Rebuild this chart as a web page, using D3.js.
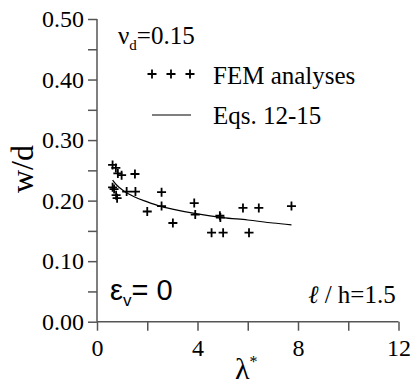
<!DOCTYPE html>
<meta charset="utf-8">
<head>
    <style>
        body { margin: 0; background: #fff; }
        svg text { font-family: "Liberation Serif", Tinos, "Times New Roman", "Nimbus Roman", "DejaVu Serif", serif; fill: #000; }
        .axis path, .axis line { stroke: #555; stroke-width: 1.5; }
        .axis text { font-size: 24px; }
    </style>
    <script src="https://cdnjs.cloudflare.com/ajax/libs/d3/7.8.5/d3.min.js"></script>
</head>
<body>
    <svg width="414" height="385"></svg>

    <script type="text/javascript">

        // FEM analyses (lambda*, w/d)
        var femLambda = [0.62, 0.75, 0.83, 0.98, 1.51, 0.62, 0.68, 0.76, 0.80, 1.18, 1.53, 2.57, 2.00, 2.57, 3.02, 3.87, 3.91, 4.89, 4.91, 4.56, 5.02, 6.05, 5.81, 6.44, 7.74];
        var femWd     = [0.259, 0.254, 0.245, 0.242, 0.244, 0.222, 0.219, 0.209, 0.204, 0.215, 0.215, 0.214, 0.182, 0.191, 0.163, 0.196, 0.177, 0.175, 0.172, 0.147, 0.147, 0.147, 0.188, 0.188, 0.191];

        // Eqs. 12-15 curve
        var eqLambda = [0.62, 0.8, 1.0, 1.5, 2.0, 2.5, 3.0, 4.0, 5.0, 6.0, 7.0, 7.74];
        var eqWd     = [0.234, 0.225, 0.218, 0.206, 0.198, 0.191, 0.186, 0.178, 0.172, 0.168, 0.163, 0.160];

        var yTicks = [0, 0.05, 0.1, 0.15, 0.2, 0.25, 0.3, 0.35, 0.4, 0.45, 0.5];
        var yLabels = ["0.00", "", "0.10", "", "0.20", "", "0.30", "", "0.40", "", "0.50"];
        var xTicks = [0, 2, 4, 6, 8, 10, 12];
        var xLabels = ["0", "", "4", "", "8", "", "12"];

        var svg = d3.select("svg");
        var serif = '"Liberation Serif", Tinos, "Times New Roman", "Nimbus Roman", "DejaVu Serif", serif';

        var x = d3.scaleLinear().domain([0, 12]).range([97, 398.5]);
        var y = d3.scaleLinear().domain([0, 0.5]).range([321.7, 19]);

        svg.append("g")
            .attr("class", "axis")
            .attr("transform", "translate(0," + y(0) + ")")
            .call(d3.axisBottom(x).tickValues(xTicks).tickSize(9).tickPadding(8)
                .tickFormat(function (d, i) { return xLabels[i]; }))
            .call(function (g) { g.select(".domain").attr("d", "M" + x(0) + ",0H" + x(12)); });

        svg.append("g")
            .attr("class", "axis")
            .attr("transform", "translate(" + x(0) + ",0)")
            .call(d3.axisLeft(y).tickValues(yTicks).tickSize(9).tickPadding(4)
                .tickFormat(function (d, i) { return yLabels[i]; }))
            .call(function (g) { g.select(".domain").attr("d", "M0," + y(0.5) + "V" + y(0)); });

        svg.selectAll(".axis").attr("font-family", serif).attr("font-size", 24);
        svg.selectAll(".axis text").attr("fill", "#000");

        // curve
        var line = d3.line()
            .x(function (d, i) { return x(eqLambda[i]); })
            .y(function (d, i) { return y(eqWd[i]); })
            .curve(d3.curveMonotoneX);

        svg.append("path")
            .datum(eqLambda)
            .attr("d", line)
            .attr("fill", "none")
            .attr("stroke", "#000")
            .attr("stroke-width", 1.2);

        // plus markers
        function plus(sel) {
            sel.attr("d", "M-4.5,0H4.5M0,-4.5V4.5")
                .attr("stroke", "#000")
                .attr("stroke-width", 1.8)
                .attr("fill", "none");
        }

        svg.append("g")
            .selectAll("path")
            .data(femLambda)
            .enter().append("path")
            .attr("transform", function (d, i) { return "translate(" + x(d) + "," + y(femWd[i]) + ")"; })
            .call(plus);

        // legend
        svg.append("g")
            .selectAll("path")
            .data([152, 171, 190])
            .enter().append("path")
            .attr("transform", function (d) { return "translate(" + d + ",74)"; })
            .call(plus);

        svg.append("line")
            .attr("x1", 152).attr("x2", 191)
            .attr("y1", 115).attr("y2", 115)
            .attr("stroke", "#000").attr("stroke-width", 1.2);

        svg.append("text").attr("x", 213).attr("y", 84).attr("font-family", serif).style("font-size", "25px").text("FEM analyses");
        svg.append("text").attr("x", 213).attr("y", 124).attr("font-family", serif).style("font-size", "25px").text("Eqs. 12-15");

        // annotations
        var nu = svg.append("text").attr("x", 118).attr("y", 44).attr("font-family", serif).style("font-size", "25px");
        nu.append("tspan").text("ν");
        nu.append("tspan").attr("dy", 6).style("font-size", "15px").text("d");
        nu.append("tspan").attr("dy", -6).text("=0.15");

        var eps = svg.append("text").attr("x", 110).attr("y", 300)
            .style("font-family", "'Liberation Sans', Arial, sans-serif").style("font-size", "29px");
        eps.append("tspan").text("ε");
        eps.append("tspan").attr("dy", 6).style("font-size", "17px").text("v");
        eps.append("tspan").attr("dy", -6).text("= 0");

        var lh = svg.append("text").attr("x", 308).attr("y", 303).attr("font-family", serif).style("font-size", "25px");
        lh.append("tspan").style("font-style", "italic").text("ℓ");
        lh.append("tspan").text(" / h=1.5");

        svg.append("text")
            .attr("transform", "translate(33,169) rotate(-90)")
            .attr("text-anchor", "middle")
            .attr("font-family", serif)
            .style("font-size", "32px")
            .text("w/d");

        var lam = svg.append("text").attr("x", 235).attr("y", 379).attr("font-family", serif).style("font-size", "30px");
        lam.append("tspan").text("λ");
        lam.append("tspan").attr("dy", -12).style("font-size", "16px").text("*");

    </script>
</body>
